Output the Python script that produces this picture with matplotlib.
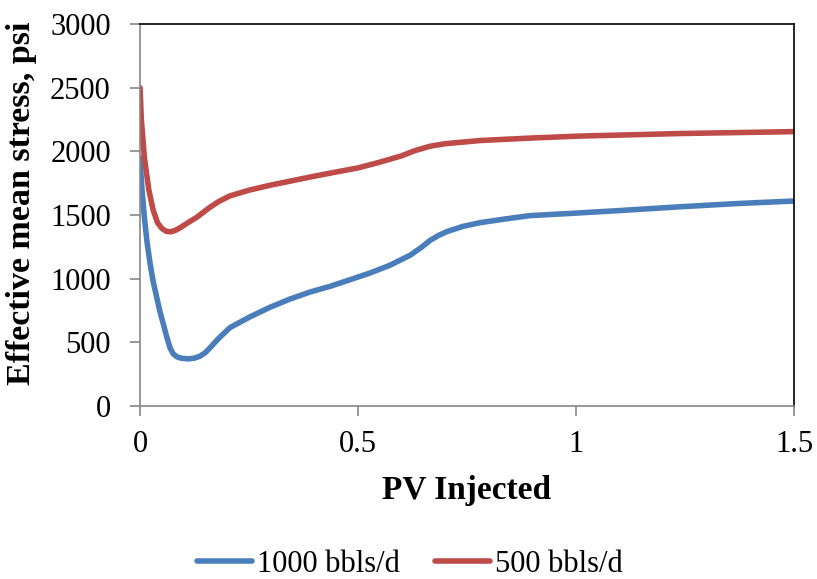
import matplotlib
matplotlib.use("Agg")
import matplotlib.pyplot as plt
from matplotlib.ticker import FixedLocator

plt.rcParams['font.family'] = ['Liberation Serif', 'DejaVu Serif']

x_label = "PV Injected"
y_label = "Effective mean stress, psi"
series_names = ["1000 bbls/d", "500 bbls/d"]

pv_1000 = [0, 0.004, 0.01, 0.016, 0.023, 0.03, 0.038, 0.045, 0.053, 0.061, 0.069,
           0.076, 0.084, 0.095, 0.11, 0.125, 0.138, 0.15, 0.16, 0.18,
           0.206, 0.252, 0.298, 0.344, 0.39, 0.436, 0.48, 0.527, 0.573, 0.62,
           0.645, 0.665, 0.685, 0.704, 0.74, 0.78, 0.84, 0.894, 1.0, 1.1,
           1.24, 1.37, 1.5]
stress_1000 = [1950, 1720, 1480, 1290, 1120, 980, 858, 750, 650, 545, 455,
               410, 387, 375, 370, 376, 392, 420, 455, 530,
               615, 700, 775, 840, 895, 940, 990, 1044, 1105, 1185,
               1245, 1300, 1340, 1370, 1410, 1440, 1470, 1495, 1515, 1535,
               1565, 1590, 1610]

pv_500 = [0, 0.003, 0.01, 0.02, 0.03, 0.04, 0.05, 0.06, 0.07, 0.08, 0.092,
          0.11, 0.13, 0.16, 0.18, 0.206, 0.25, 0.3, 0.35, 0.4, 0.45, 0.5,
          0.55, 0.6, 0.63, 0.665, 0.7, 0.78, 0.9, 1.01, 1.24, 1.5]
stress_500 = [2500, 2250, 1950, 1700, 1540, 1440, 1395, 1372, 1368, 1378, 1400,
              1440, 1482, 1560, 1605, 1650, 1695, 1735, 1770, 1805, 1838, 1870,
              1915, 1965, 2005, 2040, 2060, 2085, 2105, 2120, 2140, 2155]

x_ticks = [0, 0.5, 1, 1.5]
x_tick_labels = ["0", "0.5", "1", "1.5"]
y_ticks = [0, 500, 1000, 1500, 2000, 2500, 3000]

fig = plt.figure(figsize=(8.17, 5.79), dpi=100)
ax = fig.add_axes([0.1714, 0.2988, 0.8004, 0.6597])

ax.plot(pv_1000, stress_1000, color='#4A7EBB', lw=4.0, label=series_names[0],
        solid_capstyle='round', solid_joinstyle='round')
ax.plot(pv_500, stress_500, color='#BE4B48', lw=4.0, label=series_names[1],
        solid_capstyle='round', solid_joinstyle='round')

ax.set_xlim(0, 1.5)
ax.set_ylim(0, 3000)
ax.xaxis.set_major_locator(FixedLocator(x_ticks))
ax.set_xticklabels(x_tick_labels)
ax.yaxis.set_major_locator(FixedLocator(y_ticks))

for s in ['left', 'bottom']:
    ax.spines[s].set_color('#868686')
    ax.spines[s].set_linewidth(1.2)
for s in ['top', 'right']:
    ax.spines[s].set_color('black')
    ax.spines[s].set_linewidth(1.2)

ax.tick_params(axis='both', direction='out', length=7, width=1.2, color='#868686',
               labelsize=22)
ax.tick_params(axis='y', pad=14)
ax.tick_params(axis='x', pad=10)

ax.set_xlabel(x_label, fontsize=24, fontweight='bold', labelpad=12)
ax.set_ylabel(y_label, fontsize=24.5, fontweight='bold')
ax.yaxis.set_label_coords(-0.158, 0.532)

fig.legend(loc='center', bbox_to_anchor=(0.502, 0.025), ncol=2, frameon=False,
           fontsize=22, handlelength=1.8, handletextpad=0.17, columnspacing=1.15,
           borderpad=0.05)

fig.savefig('out.png', dpi=100)
